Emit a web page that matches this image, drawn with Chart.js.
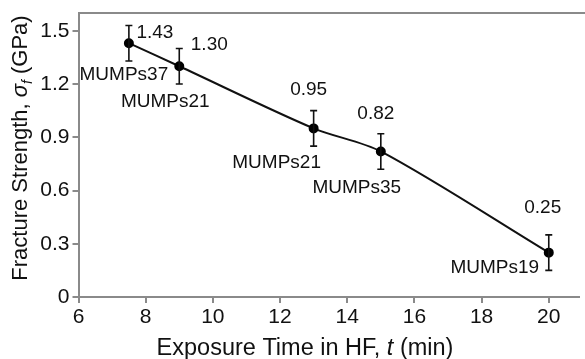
<!DOCTYPE html>
<html>
<head>
<meta charset="utf-8">
<script src="https://cdn.jsdelivr.net/npm/chart.js@4.4.1/dist/chart.umd.min.js"></script>
<style>
html, body { margin: 0; padding: 0; background: #fff; overflow: hidden; }
#wrap { width: 585px; height: 359px; }
</style>
</head>
<body>
<div id="wrap"><canvas id="strengthChart" width="585" height="359"></canvas></div>
<script>
// data
const exposureTimes = [7.5, 9, 13, 15, 20];
const strengths = [1.43, 1.30, 0.95, 0.82, 0.25];
const errors = [0.1, 0.1, 0.1, 0.1, 0.1];
const valueLabels = ['1.43', '1.30', '0.95', '0.82', '0.25'];
const runLabels = ['MUMPs37', 'MUMPs21', 'MUMPs21', 'MUMPs35', 'MUMPs19'];
const xTicks = [6, 8, 10, 12, 14, 16, 18, 20];
const yTicks = [0, 0.3, 0.6, 0.9, 1.2, 1.5];

const FONT = '"Liberation Sans", Arial, sans-serif';
const INK = '#111';
const AXIS = '#8a8a8a';

// label placement relative to each point, in px (centre of text)
const valueOffsets = [[26, -10], [30, -21], [-5, -39], [-5, -38], [-6, -45]];
const runOffsets = [[-5, 32], [-14, 36], [-37, 34], [-24, 36], [-54, 15]];

function drawRich(ctx, parts) {
    // parts: [text, font, baselineShift]
    let total = 0;
    parts.forEach(p => { ctx.font = p[1]; total += ctx.measureText(p[0]).width; });
    let x = -total / 2;
    parts.forEach(p => {
        ctx.font = p[1];
        ctx.fillText(p[0], x, p[2] || 0);
        x += ctx.measureText(p[0]).width;
    });
}

const extras = {
    id: 'extras',
    afterDraw(chart) {
        const ctx = chart.ctx;
        const area = chart.chartArea;
        const xs = chart.scales.x, ys = chart.scales.y;
        ctx.save();

        // top frame line
        ctx.strokeStyle = AXIS;
        ctx.lineWidth = 2;
        ctx.beginPath();
        ctx.moveTo(area.left, area.top);
        ctx.lineTo(chart.width, area.top);
        ctx.stroke();

        // error bars
        ctx.strokeStyle = INK;
        ctx.lineWidth = 1.6;
        exposureTimes.forEach((t, i) => {
            const px = xs.getPixelForValue(t);
            const hi = ys.getPixelForValue(strengths[i] + errors[i]);
            const lo = ys.getPixelForValue(strengths[i] - errors[i]);
            ctx.beginPath();
            ctx.moveTo(px, hi); ctx.lineTo(px, lo);
            ctx.moveTo(px - 3.5, hi); ctx.lineTo(px + 3.5, hi);
            ctx.moveTo(px - 3.5, lo); ctx.lineTo(px + 3.5, lo);
            ctx.stroke();
        });

        // point labels
        ctx.fillStyle = INK;
        ctx.font = '19px ' + FONT;
        ctx.textAlign = 'center';
        ctx.textBaseline = 'middle';
        exposureTimes.forEach((t, i) => {
            const px = xs.getPixelForValue(t);
            const py = ys.getPixelForValue(strengths[i]);
            ctx.fillText(valueLabels[i], px + valueOffsets[i][0], py + valueOffsets[i][1]);
            ctx.fillText(runLabels[i], px + runOffsets[i][0], py + runOffsets[i][1]);
        });

        // axis titles with italic symbols
        ctx.textAlign = 'left';
        ctx.textBaseline = 'alphabetic';
        ctx.save();
        ctx.translate(305, 355);
        drawRich(ctx, [
            ['Exposure Time in HF, ', '23.5px ' + FONT],
            ['t', 'italic 23.5px ' + FONT],
            [' (min)', '23.5px ' + FONT]
        ]);
        ctx.restore();

        ctx.save();
        ctx.translate(27, 148);
        ctx.rotate(-Math.PI / 2);
        drawRich(ctx, [
            ['Fracture Strength, ', '22px ' + FONT],
            ['\u03c3', 'italic 22px ' + FONT],
            ['f', 'italic 14px ' + FONT, 5],
            [' (GPa)', '22px ' + FONT]
        ]);
        ctx.restore();

        ctx.restore();
    }
};

const ctx = document.getElementById('strengthChart').getContext('2d');
new Chart(ctx, {
    type: 'scatter',
    data: {
        datasets: [{
            data: exposureTimes.map((t, i) => ({ x: t, y: strengths[i] })),
            showLine: true,
            borderColor: INK,
            borderWidth: 2,
            tension: 0.3,
            pointRadius: 4,
            pointBackgroundColor: '#000',
            pointBorderColor: '#000',
            clip: false
        }]
    },
    options: {
        responsive: false,
        animation: false,
        devicePixelRatio: 1,
        layout: { padding: { top: 13, left: 0, right: 0, bottom: 0 } },
        plugins: {
            legend: { display: false },
            tooltip: { enabled: false }
        },
        scales: {
            x: {
                type: 'linear',
                min: 6,
                max: 20.9,
                afterBuildTicks: s => { s.ticks = xTicks.map(v => ({ value: v })); },
                afterFit: s => { s.height = 62; s.paddingLeft = 0; s.paddingRight = 0; },
                grid: { drawOnChartArea: false, color: AXIS, lineWidth: 2, tickLength: 6 },
                border: { color: AXIS, width: 2 },
                ticks: {
                    color: INK,
                    padding: 2,
                    maxRotation: 0,
                    font: { family: FONT, size: 21 },
                    callback: v => String(v)
                }
            },
            y: {
                type: 'linear',
                min: 0,
                max: 1.6,
                afterBuildTicks: s => { s.ticks = yTicks.map(v => ({ value: v })); },
                afterFit: s => { s.width = 78.5; s.paddingTop = 0; s.paddingBottom = 0; },
                grid: { drawOnChartArea: false, color: AXIS, lineWidth: 2, tickLength: 6 },
                border: { color: AXIS, width: 2 },
                ticks: {
                    color: INK,
                    padding: 3,
                    font: { family: FONT, size: 21 },
                    callback: v => String(v)
                }
            }
        }
    },
    plugins: [extras]
});
</script>
</body>
</html>
